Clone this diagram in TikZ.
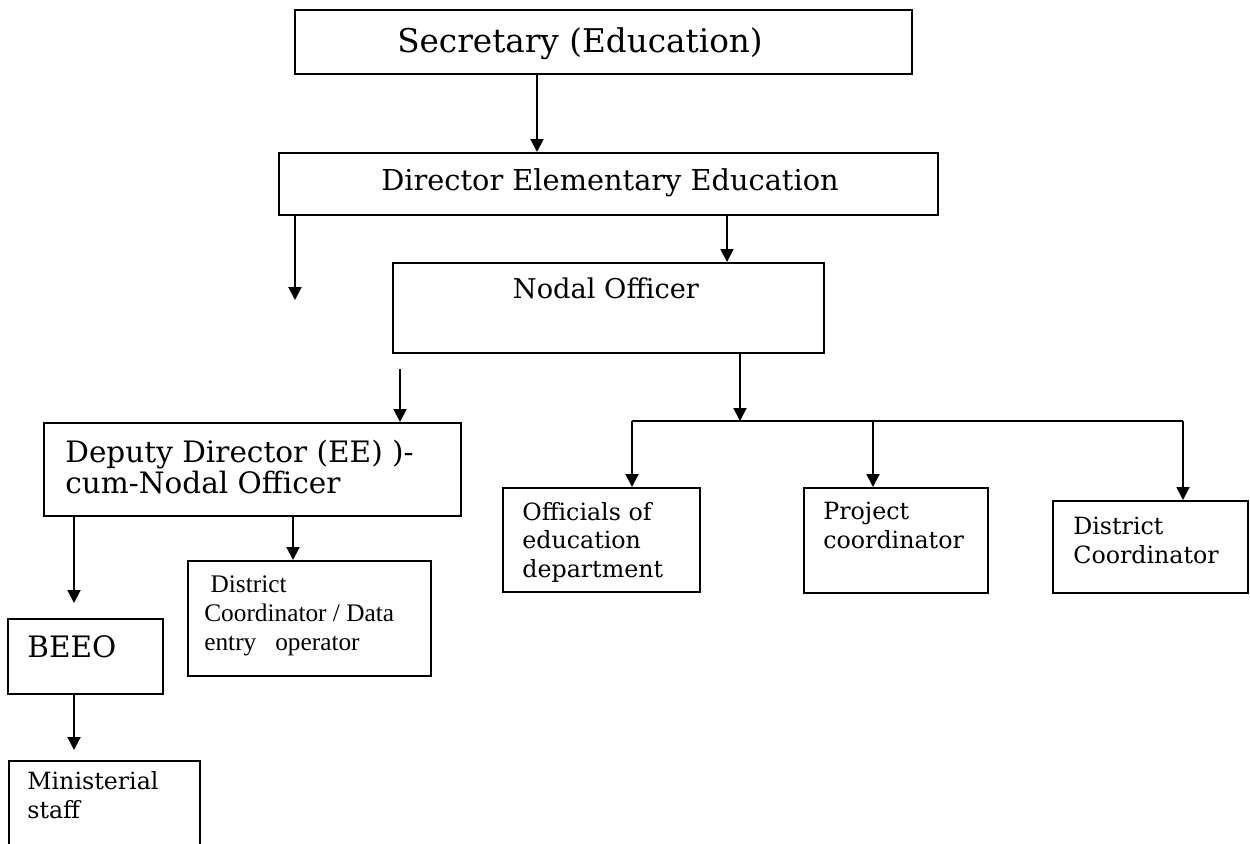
\documentclass[tikz,border=0pt]{standalone}
\usepackage{fontspec}
\setmainfont{DejaVu Serif}
\newfontfamily\timesfont{Liberation Serif}
\usetikzlibrary{arrows.meta}

\begin{document}
\begin{tikzpicture}[
    x=0.02cm, y=-0.02cm,
    box/.style={draw, line width=1.3pt, anchor=north west, inner sep=0pt},
    lbl/.style={inner sep=0pt, align=left, anchor=base west},
    big/.style={font=\fontsize{18.6}{22}\selectfont},
    mid/.style={font=\fontsize{16.8}{17.6}\selectfont},
    small/.style={font=\fontsize{13.5}{16}\selectfont},
    arrow/.style={-{Triangle[length=7.4pt, width=7.4pt]}, line width=1.1pt}
]
\useasboundingbox (0,0) rectangle (1250,843);

% Boxes
\node[box, minimum width=12.34cm, minimum height=1.28cm] (sec) at (294,9) {};
\node[box, minimum width=13.18cm, minimum height=1.24cm] (dir) at (278,152) {};
\node[box, minimum width=8.62cm, minimum height=1.8cm] (nodal) at (392,262) {};
\node[box, minimum width=8.34cm, minimum height=1.86cm] (dep) at (43,422) {};
\node[box, minimum width=4.86cm, minimum height=2.3cm] (dcd) at (187,560) {};
\node[box, minimum width=3.1cm, minimum height=1.5cm] (beeo) at (7,618) {};
\node[box, minimum width=3.82cm, minimum height=2.4cm] (mini) at (8,760) {};
\node[box, minimum width=3.94cm, minimum height=2.08cm] (offi) at (502,487) {};
\node[box, minimum width=3.68cm, minimum height=2.1cm] (proj) at (803,487) {};
\node[box, minimum width=3.9cm, minimum height=1.84cm] (dist) at (1052,500) {};

% Texts (base = last line)
\node[lbl, big, anchor=base] (secT) at (580,52) {Secretary (Education)};
\node[lbl, font=\fontsize{16.4}{18}\selectfont, anchor=base] (dirT) at (610,190) {Director Elementary Education};
\node[lbl, font=\fontsize{15.5}{17}\selectfont, anchor=base] (nodT) at (606,298) {Nodal Officer};
\node[lbl, mid] (depT) at (65,493) {Deputy Director (EE) )-\\cum-Nodal Officer};
\node[lbl, font=\timesfont\fontsize{14.4}{16.5}\selectfont] (dcdT) at (204,650)
     {~District\\Coordinator / Data\\entry~~~operator};
\node[lbl, mid] (beeoT) at (27,657) {BEEO};
\node[lbl, small] (miniT) at (27,818) {Ministerial\\staff};
\node[lbl, small] (offT) at (522,577) {Officials of\\education\\department};
\node[lbl, small] (projT) at (823,548) {Project\\coordinator};
\node[lbl, small] (dstT) at (1073,563) {District\\Coordinator};

% Connector positions
\coordinate (xSec) at (537,0);
\coordinate (xNod) at (727,0);
\coordinate (xDep) at (400,0);
\coordinate (xBus) at (740,0);
\coordinate (xOff) at (632,0);
\coordinate (xPrj) at (873,0);
\coordinate (xDst) at (1183,0);
\coordinate (xLft) at (74,0);
\coordinate (xDcd) at (293,0);
\coordinate (bus) at (740,421);
\coordinate (dirL) at (295,300);

% Arrows
\draw[arrow] (xSec |- sec.south) -- (xSec |- dir.north);
\draw[arrow] (dirL |- dir.south) -- (dirL);
\draw[arrow] (xNod |- dir.south) -- (xNod |- nodal.north);
\draw[arrow, shorten <=0.3cm] (xDep |- nodal.south) -- (xDep |- dep.north);
\draw[arrow] (xBus |- nodal.south) -- (bus);
\draw[line width=1.1pt] (xOff |- bus) -- (xDst |- bus);
\draw[arrow] (xOff |- bus) -- (xOff |- offi.north);
\draw[arrow] (xPrj |- bus) -- (xPrj |- proj.north);
\draw[arrow] (xDst |- bus) -- (xDst |- dist.north);
\draw[arrow, shorten >=0.3cm] (xLft |- dep.south) -- (xLft |- beeo.north);
\draw[arrow] (xDcd |- dep.south) -- (xDcd |- dcd.north);
\draw[arrow, shorten >=0.2cm] (xLft |- beeo.south) -- (xLft |- mini.north);

\end{tikzpicture}
\end{document}
